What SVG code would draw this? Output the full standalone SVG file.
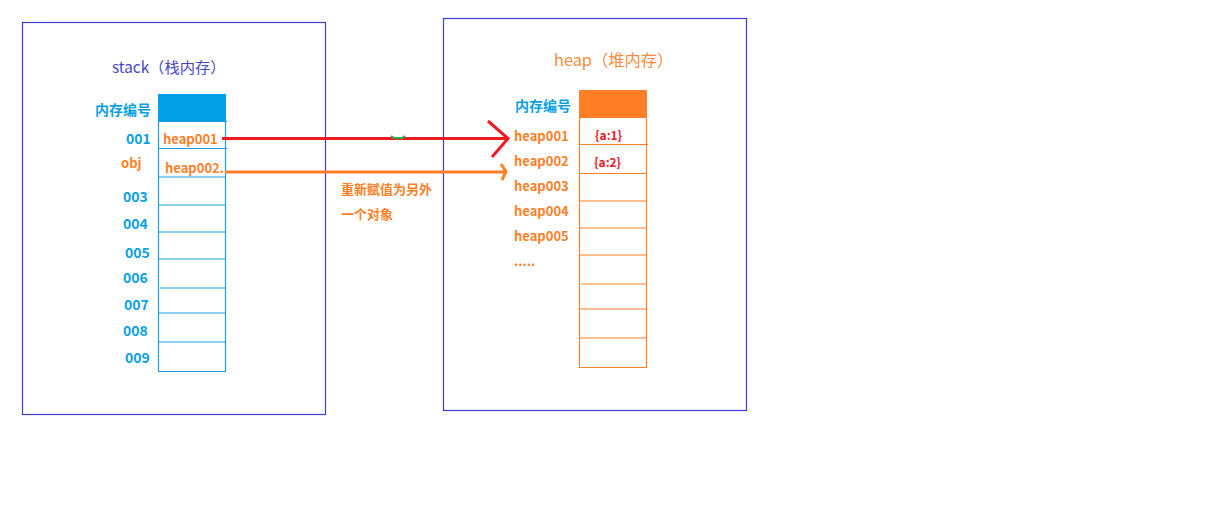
<svg xmlns="http://www.w3.org/2000/svg" width="1207" height="512" viewBox="0 0 1207 512">
<style>
.frame{fill:none;stroke:#3c3cd0;stroke-width:1.2}
.sl{stroke:#1a9ee0;stroke-width:1.2;fill:none}
.hl{stroke:#ff7f27;stroke-width:1.2;fill:none}
text{font-family:"Noto Sans CJK SC","Noto Sans",sans-serif}
.bl{fill:#0a9fe3;font-size:14px;font-weight:bold}
.or{fill:#ff7f27;font-size:13px;font-weight:bold}
.rd{fill:#e8202a;font-size:12px;font-weight:bold}
.note{fill:#ff7f27;font-size:13px;font-weight:bold}
</style>
<rect width="1207" height="512" fill="#fff"/>
<g id="stack">
<rect class="frame" x="22.5" y="22.5" width="303" height="392"/>
<text x="112" y="73" font-size="15.3" fill="#4646c8">stack（栈内存）</text>
<rect x="158" y="94" width="68" height="27.5" fill="#00a0e6"/>
<path class="sl" d="M158.5 121.5V371.5H225.5V121.5M158 121.5H227M158 148.5H227M158 177H226M158 205H226M158 232H226M158 259H226M160 288H226M158 313H226M158 342H226"/>
<text class="bl" x="95" y="115">内存编号</text>
<text class="bl" x="126" y="144">001</text>
<text class="or" x="121" y="168">obj</text>
<text class="bl" x="123" y="202">003</text>
<text class="bl" x="123" y="229">004</text>
<text class="bl" x="125" y="258">005</text>
<text class="bl" x="123" y="283">006</text>
<text class="bl" x="124" y="310">007</text>
<text class="bl" x="123" y="336">008</text>
<text class="bl" x="125" y="363">009</text>
<text class="or" x="163" y="144">heap001</text>
<text class="or" x="165" y="172.5">heap002.</text>
</g>
<g id="heap">
<rect class="frame" x="443.5" y="18.5" width="303" height="392"/>
<text x="554" y="66" font-size="16.3" fill="#ff8a3c">heap（堆内存）</text>
<rect x="579" y="90" width="68" height="27.5" fill="#ff7f27"/>
<path class="hl" d="M579.5 117.5V367.5H646.5V117.5M579 117.5H647M579 144.5H648M579 173.5H647M579 201H647M579 228H647M579 255H647M581 284H647M579 309H647M579 338H647"/>
<text class="bl" x="515" y="111">内存编号</text>
<text class="or" x="514" y="141">heap001</text>
<text class="or" x="514" y="166">heap002</text>
<text class="or" x="514" y="191">heap003</text>
<text class="or" x="514" y="216">heap004</text>
<text class="or" x="514" y="241">heap005</text>
<text class="or" x="514" y="266">.....</text>
<text class="rd" x="595" y="140">{a:1}</text>
<text class="rd" x="594" y="167">{a:2}</text>
</g>
<g id="connectors">
<path d="M222 138.5H508M488 121L508 138.5L492 157" fill="none" stroke="#ed1c24" stroke-width="3"/>
<path d="M391 136L394 138H402L405 136" fill="none" stroke="#22b14c" stroke-width="2"/>
<path d="M225 172H506M501 164L506 171.5L502 180" fill="none" stroke="#ff7f27" stroke-width="3"/>
<text class="note" x="341" y="194">重新赋值为另外</text>
<text class="note" x="341" y="219">一个对象</text>
</g>
</svg>
